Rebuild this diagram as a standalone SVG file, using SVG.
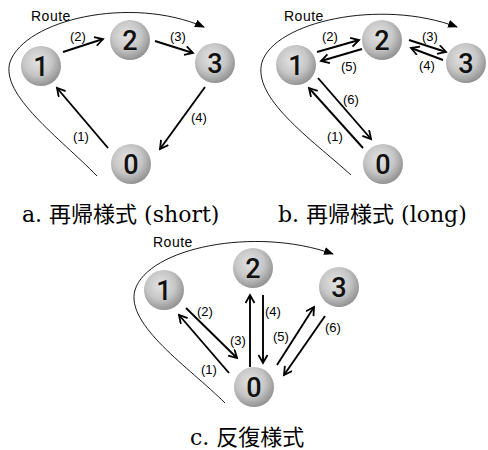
<svg xmlns="http://www.w3.org/2000/svg" width="488" height="450" viewBox="0 0 488 450">
<defs>
<radialGradient id="g" cx="0.42" cy="0.38" r="0.65">
<stop offset="0" stop-color="#e4e4e4"/>
<stop offset="0.55" stop-color="#c6c6c6"/>
<stop offset="1" stop-color="#8e8e8e"/>
</radialGradient>
<marker id="ah" markerWidth="12" markerHeight="12" refX="9" refY="5" orient="auto" markerUnits="userSpaceOnUse">
<path d="M1,0.5 L9,5 L1,9.5" fill="none" stroke="#000" stroke-width="1.8"/>
</marker>
<marker id="rh" markerWidth="12" markerHeight="10" refX="9" refY="4" orient="auto" markerUnits="userSpaceOnUse">
<path d="M0,0 L10,4 L0,8 Z" fill="#000"/>
</marker>
</defs>
<style>
.n circle{fill:url(#g)}
.n text{font-family:Roboto,"Liberation Sans",sans-serif;font-weight:500;font-size:27px;fill:#111;text-anchor:middle}
.e line{stroke:#000;stroke-width:1.9;marker-end:url(#ah)}
.r{fill:none;stroke:#000;stroke-width:0.9;marker-end:url(#rh)}
.lb{font-family:"Liberation Sans",Arial,sans-serif;font-size:13px;fill:#000}
.rt{font-family:"Liberation Sans",Arial,sans-serif;font-size:14px;letter-spacing:0.5px;fill:#000}
.cap{font-family:"DejaVu Serif","Noto Sans CJK JP",serif;font-size:22px;fill:#000}
</style>

<!-- diagram a -->
<g id="a-n1" class="n"><circle cx="41" cy="66" r="20"/><text x="41" y="76">1</text></g>
<g id="a-n2" class="n"><circle cx="130" cy="40" r="20"/><text x="130" y="50">2</text></g>
<g id="a-n3" class="n"><circle cx="215" cy="63" r="20"/><text x="215" y="73">3</text></g>
<g id="a-n0" class="n"><circle cx="131" cy="164" r="20"/><text x="131" y="174">0</text></g>

<!-- diagram b -->
<g id="b-n1" class="n"><circle cx="296" cy="65" r="20"/><text x="296" y="75">1</text></g>
<g id="b-n2" class="n"><circle cx="382" cy="40" r="20"/><text x="382" y="50">2</text></g>
<g id="b-n3" class="n"><circle cx="466" cy="63" r="20"/><text x="466" y="73">3</text></g>
<g id="b-n0" class="n"><circle cx="383" cy="164" r="20"/><text x="383" y="174">0</text></g>

<!-- diagram c -->
<g id="c-n1" class="n"><circle cx="164" cy="290" r="20"/><text x="164" y="300">1</text></g>
<g id="c-n2" class="n"><circle cx="253" cy="268" r="20"/><text x="253" y="278">2</text></g>
<g id="c-n3" class="n"><circle cx="339" cy="287" r="20"/><text x="339" y="297">3</text></g>
<g id="c-n0" class="n"><circle cx="254" cy="387" r="20"/><text x="254" y="397">0</text></g>

<g id="connectors">
<g class="e">
<!-- a -->
<line x1="108" y1="148" x2="57" y2="88"/>
<line x1="63" y1="52" x2="103" y2="39"/>
<line x1="155" y1="41" x2="193" y2="53"/>
<line x1="205" y1="87" x2="160" y2="149"/>
<!-- b -->
<line x1="317" y1="52" x2="359" y2="40"/>
<line x1="362" y1="49" x2="321" y2="61"/>
<line x1="409" y1="40" x2="446" y2="52"/>
<line x1="443" y1="60" x2="411" y2="48"/>
<line x1="318" y1="78" x2="371" y2="139"/>
<line x1="363" y1="148" x2="309" y2="88"/>
<!-- c -->
<line x1="229" y1="373" x2="179" y2="315"/>
<line x1="186" y1="308" x2="237" y2="358"/>
<line x1="250" y1="367" x2="250" y2="295"/>
<line x1="263" y1="295" x2="263" y2="363"/>
<line x1="277" y1="365" x2="314" y2="307"/>
<line x1="325" y1="316" x2="284" y2="375"/>
</g>
<path class="r" d="M97,176 C60,138 0,95 10,62 C25,20 130,-5 204,27"/>
<path class="r" d="M351,175 C310,138 252,98 262,62 C275,22 380,-2 457,27"/>
<path class="r" d="M225,403 C190,368 125,325 135,290 C148,248 255,226 333,254"/>
</g>

<g id="labels">
<text class="rt" x="31" y="21">Route</text>
<text class="lb" x="70" y="41">(2)</text>
<text class="lb" x="170" y="41">(3)</text>
<text class="lb" x="191" y="122">(4)</text>
<text class="lb" x="73" y="141">(1)</text>

<text class="rt" x="284" y="21">Route</text>
<text class="lb" x="322" y="41">(2)</text>
<text class="lb" x="341" y="71">(5)</text>
<text class="lb" x="422" y="41">(3)</text>
<text class="lb" x="419" y="70">(4)</text>
<text class="lb" x="343" y="104">(6)</text>
<text class="lb" x="327" y="141">(1)</text>

<text class="rt" x="153" y="247">Route</text>
<text class="lb" x="197" y="316">(2)</text>
<text class="lb" x="201" y="374">(1)</text>
<text class="lb" x="230" y="345">(3)</text>
<text class="lb" x="265" y="316">(4)</text>
<text class="lb" x="273" y="341">(5)</text>
<text class="lb" x="325" y="332">(6)</text>

<text class="cap" x="22" y="222">a. 再帰様式 (short)</text>
<text class="cap" x="278" y="222">b. 再帰様式 (long)</text>
<text class="cap" x="190" y="445">c. 反復様式</text>
</g>
</svg>
